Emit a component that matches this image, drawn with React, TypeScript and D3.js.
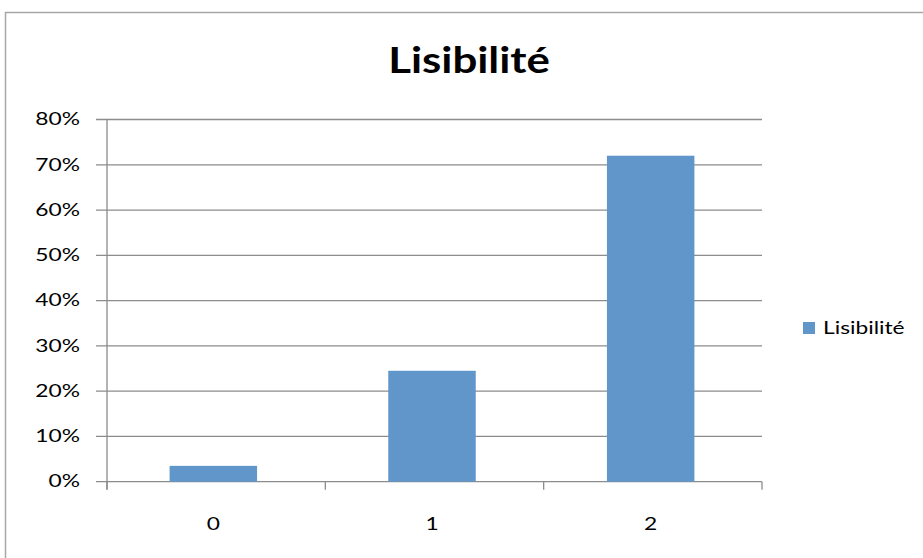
import React from "react";
import * as d3 from "d3";

const categories = ["0", "1", "2"];
const values = [0.035, 0.245, 0.72];
const yTicks = [0, 0.1, 0.2, 0.3, 0.4, 0.5, 0.6, 0.7, 0.8];
const seriesName = "Lisibilité";
const title = "Lisibilité";

const font = "Lato, Carlito, 'Open Sans', sans-serif";

function SText(props: { x: number; y: number; sx: number; size: number; anchor?: string; bold?: boolean; children: React.ReactNode }) {
  const { x, y, sx, size, anchor, bold, children } = props;
  return (
    <text
      transform={`translate(${x},${y}) scale(${sx},1)`}
      dy="0.35em"
      textAnchor={anchor || "start"}
      fontFamily={font}
      fontWeight={bold ? "bold" : "normal"}
      fontSize={size}
      fill="#000"
    >
      {children}
    </text>
  );
}

export default function App() {
  const W = 923, H = 558;
  const left = 107, right = 762, top = 119.5, bottom = 481.7;
  const x = d3.scaleBand<string>().domain(categories).range([104, 760]).paddingInner(0.6).paddingOuter(0.3);
  const y = d3.scaleLinear().domain([0, 0.8]).range([bottom, top]);
  const fmt = d3.format(".0%");
  const band = (right - left) / categories.length;
  const grid = "#8c8c8c";
  const small = 16.5, sxs = 1.38;
  return (
    <svg width={W} height={H} style={{ position: "absolute", left: 0, top: 0, display: "block", background: "#fff" }}>
      <rect x={5.5} y={12.5} width={W} height={H} fill="#fff" stroke="#a6a6a6" strokeWidth={1.5} />
      <SText x={469} y={60} sx={1.2} size={36.5} anchor="middle" bold>{title}</SText>
      {yTicks.map((t) => (
        <g key={t}>
          <line x1={left - 11} x2={right} y1={y(t)} y2={y(t)} stroke={grid} strokeWidth={1.3} />
          <SText x={80} y={y(t)} sx={sxs} size={small} anchor="end">{fmt(t)}</SText>
        </g>
      ))}
      <line x1={left} x2={left} y1={top} y2={bottom + 8} stroke={grid} strokeWidth={1.3} />
      {d3.range(categories.length + 1).map((i) => (
        <line key={i} x1={left + band * i} x2={left + band * i} y1={bottom} y2={bottom + 8} stroke={grid} strokeWidth={1.3} />
      ))}
      {categories.map((c, i) => (
        <g key={c}>
          <rect x={x(c)} y={y(values[i])} width={x.bandwidth()} height={bottom - y(values[i])} fill="#6096C9" />
          <SText x={(x(c) as number) + x.bandwidth() / 2} y={524.5} sx={sxs} size={small} anchor="middle">{c}</SText>
        </g>
      ))}
      <rect x={803} y={322} width={12} height={12} fill="#6096C9" />
      <SText x={823} y={328} sx={sxs} size={small}>{seriesName}</SText>
    </svg>
  );
}
